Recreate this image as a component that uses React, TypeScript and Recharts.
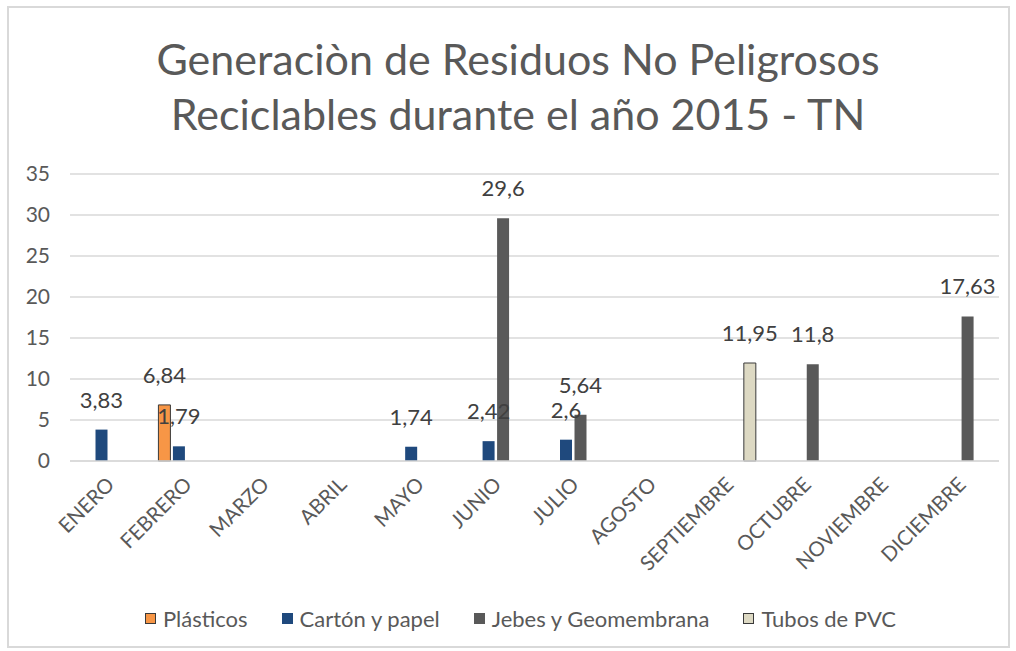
import React from "react";
import { BarChart, Bar, XAxis, YAxis, CartesianGrid, Legend, LabelList } from "recharts";

const months = [
  "ENERO", "FEBRERO", "MARZO", "ABRIL", "MAYO", "JUNIO",
  "JULIO", "AGOSTO", "SEPTIEMBRE", "OCTUBRE", "NOVIEMBRE", "DICIEMBRE",
];
const plasticos = [null, 6.84, null, null, null, null, null, null, null, null, null, null];
const carton = [3.83, 1.79, null, null, 1.74, 2.42, 2.6, null, null, null, null, null];
const jebes = [null, null, null, null, null, 29.6, 5.64, null, null, 11.8, null, 17.63];
const tubos = [null, null, null, null, null, null, null, null, 11.95, null, null, null];
const yTicks = [0, 5, 10, 15, 20, 25, 30, 35];

const SERIES = [
  { key: "plasticos", name: "Plásticos", fill: "#F79646", stroke: "#3a3a3a" },
  { key: "carton", name: "Cartón y papel", fill: "#1F497D", stroke: "none" },
  { key: "jebes", name: "Jebes y Geomembrana", fill: "#595959", stroke: "none" },
  { key: "tubos", name: "Tubos de PVC", fill: "#DDD9C3", stroke: "#3a3a3a" },
];

const FONT = "Lato, 'Open Sans', sans-serif";
const TEXT = "#595959";
const W = 1016;
const H = 651;
const MARGIN = { top: 174, right: 17, left: 0, bottom: 20 };

const data = months.map((m, i) => ({
  month: m,
  plasticos: plasticos[i],
  carton: carton[i],
  jebes: jebes[i],
  tubos: tubos[i],
}));

const fmt = (v: unknown) => (v == null ? "" : String(v).replace(".", ","));

function MonthTick({ x, y, payload }: any) {
  return (
    <g transform={`translate(${x - 4},${y + 6})`}>
      <text
        x={0}
        y={0}
        dy="0.75em"
        textAnchor="end"
        transform="rotate(-45)"
        fill={TEXT}
        fontSize={20.5}
        fontFamily={FONT}
      >
        {payload.value}
      </text>
    </g>
  );
}

function LegendBox() {
  return (
    <div
      style={{
        display: "flex",
        justifyContent: "center",
        gap: 34,
        paddingLeft: 42,
        marginTop: -2,
        fontFamily: FONT,
        fontSize: 22,
        color: TEXT,
      }}
    >
      {SERIES.map((s) => (
        <div key={s.key} style={{ display: "flex", alignItems: "center" }}>
          <span
            style={{
              display: "inline-block",
              width: 11,
              height: 11,
              marginRight: 7,
              background: s.fill,
              border: s.stroke !== "none" ? `1px solid ${s.stroke}` : "none",
              boxSizing: "border-box",
            }}
          />
          {s.name}
        </div>
      ))}
    </div>
  );
}

// both layers share the same layout so the label layer sits exactly over the bars
function Layer({ labels }: { labels: boolean }) {
  return (
    <BarChart width={W} height={H} data={data} margin={MARGIN} barSize={12} barGap={2.5}>
      {!labels && <CartesianGrid vertical={false} stroke="#d9d9d9" strokeWidth={1.5} />}
      <XAxis
        dataKey="month"
        height={146}
        interval={0}
        tickLine={false}
        axisLine={labels ? false : { stroke: "#d9d9d9", strokeWidth: 1.5 }}
        tick={labels ? false : <MonthTick />}
      />
      <YAxis
        width={70}
        domain={[0, 35]}
        ticks={yTicks}
        tickLine={false}
        axisLine={false}
        tickMargin={14}
        tick={labels ? false : { fill: TEXT, fontSize: 21, fontFamily: FONT }}
      />
      <Legend verticalAlign="bottom" height={24} content={labels ? () => null : <LegendBox />} />
      {SERIES.map((s) => (
        <Bar
          key={s.key}
          dataKey={s.key}
          name={s.name}
          fill={labels ? "transparent" : s.fill}
          stroke={labels ? "none" : s.stroke}
          strokeWidth={1}
          isAnimationActive={false}
        >
          {labels && (
            <LabelList
              dataKey={s.key}
              position="top"
              offset={22}
              formatter={fmt}
              fill="#404040"
              fontSize={22}
              fontFamily={FONT}
            />
          )}
        </Bar>
      ))}
    </BarChart>
  );
}

export default function App() {
  return (
    <div style={{ position: "absolute", left: 0, top: 0, width: W, height: H, background: "#fff" }}>
      <div
        style={{
          position: "absolute",
          left: 7,
          top: 6,
          width: 1003,
          height: 642,
          border: "2px solid #d9d9d9",
          boxSizing: "border-box",
        }}
      />
      <div
        style={{
          position: "absolute",
          left: 10,
          top: 31,
          width: W,
          textAlign: "center",
          fontFamily: FONT,
          fontSize: 43,
          lineHeight: "55px",
          color: TEXT,
        }}
      >
        Generaciòn de Residuos No Peligrosos
        <br />
        Reciclables durante el año 2015 - TN
      </div>
      <div style={{ position: "absolute", left: 0, top: 0 }}>
        <Layer labels={false} />
      </div>
      <div style={{ position: "absolute", left: 0, top: 0 }}>
        <Layer labels={true} />
      </div>
    </div>
  );
}
